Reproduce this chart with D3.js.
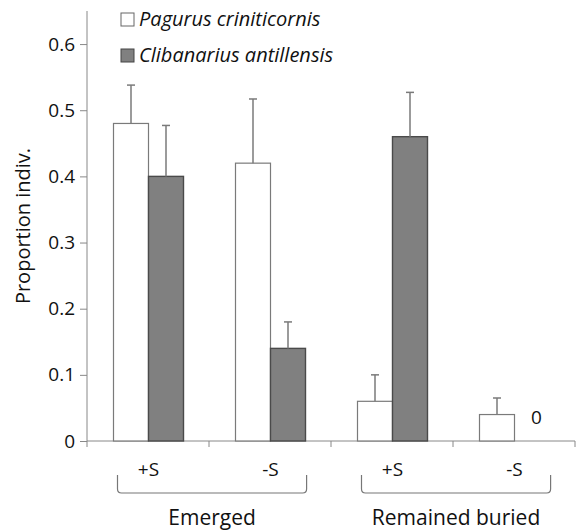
<!DOCTYPE html>
<html>
<head>
<script src="https://cdn.jsdelivr.net/npm/d3@7"></script>
<style>
  body { margin: 0; background: #fff; font-family: "Open Sans", sans-serif; }
</style>
</head>
<body>
<svg id="chart" width="578" height="530"></svg>
<script>
var categories = ["E+S", "E-S", "B+S", "B-S"];
var tickLabels = ["+S", "-S", "+S", "-S"];
var pagurus = [0.48, 0.42, 0.06, 0.04];
var pagurusErr = [0.058, 0.097, 0.04, 0.025];
var clibanarius = [0.40, 0.14, 0.46, 0];
var clibanariusErr = [0.077, 0.04, 0.067, 0];
var yTicks = [0, 0.1, 0.2, 0.3, 0.4, 0.5, 0.6];
var groups = [
  { name: "Emerged", from: "E+S", to: "E-S" },
  { name: "Remained buried", from: "B+S", to: "B-S" }
];

var svg = d3.select("#chart");
var plotLeft = 87, plotRight = 575, plotTop = 11, plotBottom = 441;

var x = d3.scaleBand().domain(categories).range([plotLeft, plotRight]);
var y = d3.scaleLinear().domain([0, 0.65]).range([plotBottom, plotTop]);
var bw = 35;

// y axis
var yAxis = svg.append("g")
  .attr("transform", "translate(" + plotLeft + ",0)")
  .call(d3.axisLeft(y).tickValues(yTicks).tickSize(7).tickSizeOuter(0)
    .tickFormat(function (d) { return d === 0 ? "0" : d3.format(".1f")(d); }));
yAxis.select(".domain").attr("d", "M0," + plotTop + "V" + (plotBottom + 6));
yAxis.selectAll("line,path").attr("stroke", "#888");
yAxis.selectAll("text").attr("fill", "#111").style("font-size", "19px")
  .style("font-family", "Open Sans").attr("x", -12);

// x axis
var xg = svg.append("g").attr("transform", "translate(0," + plotBottom + ")");
xg.append("line").attr("x1", plotLeft).attr("x2", plotRight).attr("stroke", "#888");
xg.selectAll("line.tk").data(categories).enter().append("line")
  .attr("class", "tk")
  .attr("x1", function (d) { return x(d) + x.bandwidth(); })
  .attr("x2", function (d) { return x(d) + x.bandwidth(); })
  .attr("y1", 0).attr("y2", 6).attr("stroke", "#888");

// bars
function center(d) { return x(d) + x.bandwidth() / 2 + 0.5; }

svg.selectAll("rect.pag").data(categories).enter().append("rect")
  .attr("x", function (d) { return center(d) - bw; })
  .attr("y", function (d, i) { return y(pagurus[i]); })
  .attr("width", bw)
  .attr("height", function (d, i) { return plotBottom - y(pagurus[i]); })
  .attr("fill", "#fff").attr("stroke", "#7a7a7a").attr("stroke-width", 1.2);

svg.selectAll("rect.cli").data(categories).enter().append("rect")
  .attr("x", function (d) { return center(d); })
  .attr("y", function (d, i) { return y(clibanarius[i]); })
  .attr("width", bw)
  .attr("height", function (d, i) { return plotBottom - y(clibanarius[i]); })
  .attr("fill", "#808080").attr("stroke", "#4a4a4a").attr("stroke-width", 1.4)
  .style("display", function (d, i) { return clibanarius[i] > 0 ? null : "none"; });

// error bars
function errBars(vals, errs, offset) {
  categories.forEach(function (c, i) {
    if (!errs[i]) return;
    var cx = center(c) + offset;
    svg.append("line").attr("x1", cx).attr("x2", cx)
      .attr("y1", y(vals[i])).attr("y2", y(vals[i] + errs[i]))
      .attr("stroke", "#7a7a7a").attr("stroke-width", 1.5);
    svg.append("line").attr("x1", cx - 4).attr("x2", cx + 4)
      .attr("y1", y(vals[i] + errs[i])).attr("y2", y(vals[i] + errs[i]))
      .attr("stroke", "#7a7a7a").attr("stroke-width", 1.5);
  });
}
errBars(pagurus, pagurusErr, -bw / 2);
errBars(clibanarius, clibanariusErr, bw / 2);

// zero label
categories.forEach(function (c, i) {
  if (clibanarius[i] === 0) {
    svg.append("text").attr("x", center(c) + 22).attr("y", y(0.04) + 9)
      .attr("text-anchor", "middle").style("font-size", "19px").attr("fill", "#111")
      .text("0");
  }
});

// category labels
svg.selectAll("text.cat").data(categories).enter().append("text")
  .attr("x", function (d) { return center(d); })
  .attr("y", 476).attr("text-anchor", "middle")
  .style("font-size", "19px").attr("fill", "#111")
  .text(function (d, i) { return tickLabels[i]; });

// brackets
groups.forEach(function (g) {
  var x1 = x(g.from) + x.bandwidth() * 0.25;
  var x2 = x(g.to) + x.bandwidth() * 0.8;
  svg.append("path")
    .attr("d", "M" + x1 + ",475 V489 Q" + x1 + ",493 " + (x1 + 4) + ",493 H" + (x2 - 4) +
      " Q" + x2 + ",493 " + x2 + ",489 V475")
    .attr("fill", "none").attr("stroke", "#777").attr("stroke-width", 1.2);
  svg.append("text").attr("x", (x1 + x2) / 2).attr("y", 525)
    .attr("text-anchor", "middle").style("font-size", "21px").attr("fill", "#111")
    .text(g.name);
});

// y label
svg.append("text")
  .attr("transform", "translate(30," + 226 + ") rotate(-90)")
  .attr("text-anchor", "middle").style("font-size", "20px").attr("fill", "#111")
  .text("Proportion indiv.");

// legend
var legend = [
  { name: "Pagurus criniticornis", fill: "#fff", stroke: "#666", y: 13 },
  { name: "Clibanarius antillensis", fill: "#808080", stroke: "#444", y: 49 }
];
legend.forEach(function (l) {
  svg.append("rect").attr("x", 121).attr("y", l.y).attr("width", 13).attr("height", 13)
    .attr("fill", l.fill).attr("stroke", l.stroke).attr("stroke-width", 1);
  svg.append("text").attr("x", 139).attr("y", l.y + 13)
    .style("font-size", "20px").style("font-style", "italic").attr("fill", "#111")
    .text(l.name);
});
</script>
</body>
</html>
